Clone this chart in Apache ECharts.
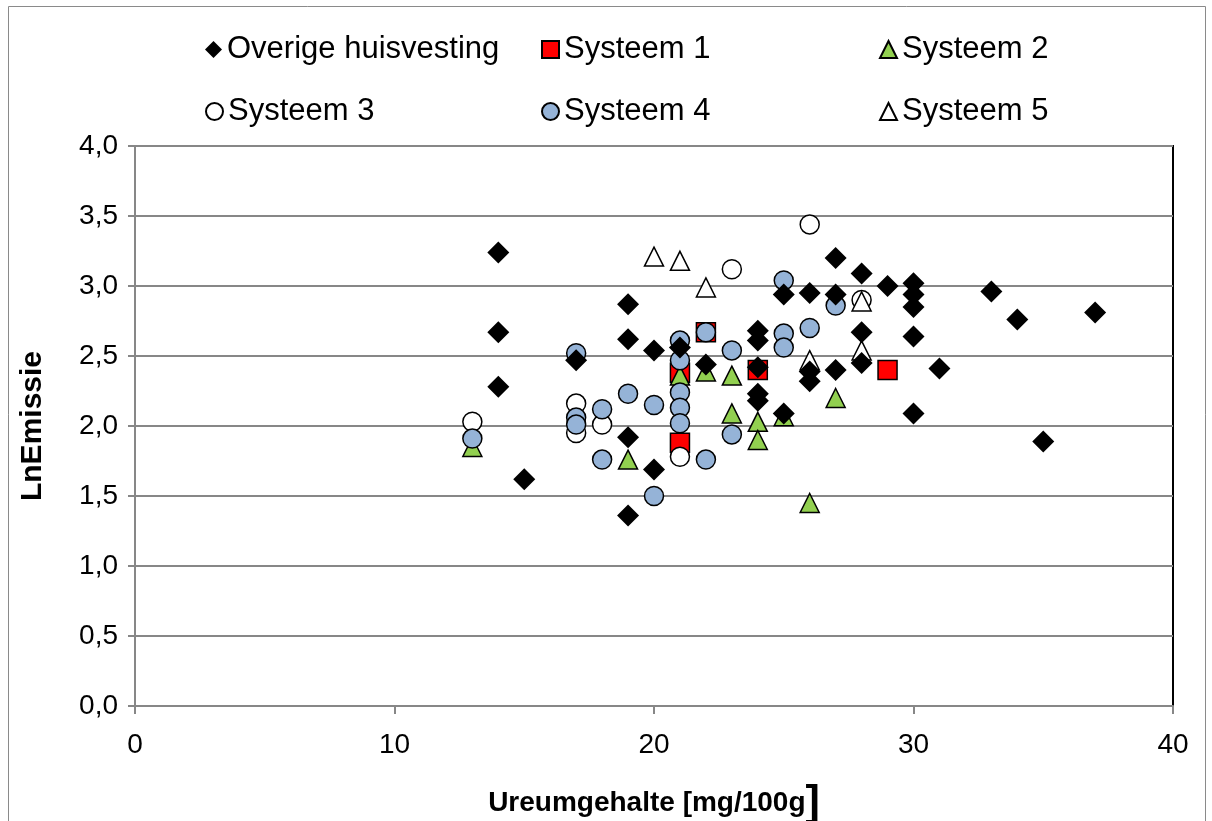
<!DOCTYPE html>
<html>
<head>
<meta charset="utf-8">
<script src="https://cdn.jsdelivr.net/npm/echarts@6/dist/echarts.min.js"></script>
<style>
  html, body { margin: 0; padding: 0; background: #fff; }
  #chart { width: 1212px; height: 821px; }
</style>
</head>
<body>
<div id="chart"></div>
<script>
// data: [Ureumgehalte, LnEmissie]
const overigeData = [
  [14, 3.24], [14, 2.67], [14, 2.28], [15, 1.62], [17, 2.47],
  [19, 2.87], [19, 2.62], [19, 1.92], [19, 1.36], [20, 2.54], [20, 1.69],
  [21, 2.56], [22, 2.44], [24, 2.68], [24, 2.61], [24, 2.42], [24, 2.23], [24, 2.18],
  [25, 2.94], [25, 2.09], [26, 2.95], [26, 2.39], [26, 2.32],
  [27, 3.20], [27, 2.94], [27, 2.40], [28, 3.09], [28, 2.67], [28, 2.45],
  [29, 3.00], [30, 3.02], [30, 2.94], [30, 2.85], [30, 2.64], [30, 2.09],
  [31, 2.41], [33, 2.96], [34, 2.76], [35, 1.89], [37, 2.81]
];
const systeem1Data = [[21, 2.38], [21, 1.88], [22, 2.67], [24, 2.40], [29, 2.40]];
const systeem2Data = [
  [13, 1.85], [19, 1.76], [21, 2.36], [22, 2.39], [23, 2.36], [23, 2.09],
  [24, 2.03], [24, 1.90], [25, 2.07], [26, 1.45], [27, 2.20]
];
const systeem3Data = [
  [13, 2.03], [17, 2.16], [17, 1.95], [18, 2.01], [21, 1.78],
  [23, 3.12], [26, 3.44], [28, 2.90]
];
const systeem4Data = [
  [13, 1.91], [17, 2.52], [17, 2.06], [17, 2.01], [18, 2.12], [18, 1.76],
  [19, 2.23], [20, 2.15], [20, 1.50],
  [21, 2.61], [21, 2.47], [21, 2.24], [21, 2.13], [21, 2.02],
  [22, 2.67], [22, 1.76], [23, 2.54], [23, 1.94],
  [25, 3.04], [25, 2.66], [25, 2.56], [26, 2.70], [27, 2.86]
];
const systeem5Data = [[20, 3.21], [21, 3.18], [22, 2.99], [26, 2.47], [28, 2.89], [28, 2.54]];

const names = ['Overige huisvesting', 'Systeem 1', 'Systeem 2', 'Systeem 3', 'Systeem 4', 'Systeem 5'];
const yTicks = [0, 0.5, 1, 1.5, 2, 2.5, 3, 3.5, 4];

const FONT = "'Liberation Sans', Arial, sans-serif";
const GRAY = '#878787';

const chart = echarts.init(document.getElementById('chart'));

// legend: one component per entry so that the 3-column layout matches
const legendPos = [
  [205, 34], [541, 34], [879, 34],
  [205, 96], [541, 96], [879, 96]
];
const legends = names.map((n, i) => ({
  data: [n],
  left: legendPos[i][0],
  top: legendPos[i][1],
  padding: 0,
  itemWidth: 17,
  itemHeight: 17,
  selectedMode: false,
  textStyle: { fontSize: 31, fontFamily: FONT, color: '#000' }
}));

const edge = { borderColor: '#000', borderWidth: 1.5, opacity: 1 };

const option = {
  animation: false,
  backgroundColor: '#fff',
  legend: legends,
  graphic: [{
    type: 'rect',
    shape: { x: 8.5, y: 6.5, width: 1197, height: 830 },
    style: { fill: 'none', stroke: '#8a8a8a', lineWidth: 1 },
    silent: true
  }],
  grid: {
    left: 135, right: 39, top: 146, bottom: 115,
    outerBoundsMode: 'none',
    show: true, borderColor: '#000', borderWidth: 2, backgroundColor: '#fff'
  },
  xAxis: {
    type: 'value', min: 0, max: 40, interval: 10,
    name: '{a|Ureumgehalte [mg/100g}{b|]}',
    nameLocation: 'middle', nameGap: 76,
    nameTextStyle: {
      fontFamily: FONT, color: '#000',
      rich: {
        a: { fontSize: 28, fontWeight: 'bold', fontFamily: FONT, color: '#000' },
        b: { fontSize: 43, fontWeight: 'bold', fontFamily: FONT, color: '#000' }
      }
    },
    axisLine: { show: true, onZero: false, lineStyle: { color: GRAY, width: 2 } },
    axisTick: { show: true, length: 8, lineStyle: { color: GRAY, width: 2 } },
    axisLabel: { fontSize: 28, fontFamily: FONT, color: '#000', margin: 25 },
    splitLine: { show: false }
  },
  yAxis: {
    type: 'value', min: 0, max: 4, interval: 0.5,
    name: 'LnEmissie',
    nameLocation: 'middle', nameGap: 87,
    nameTextStyle: { fontSize: 30, fontWeight: 'bold', fontFamily: FONT, color: '#000' },
    axisLine: { show: true, lineStyle: { color: GRAY, width: 2 } },
    axisTick: { show: true, length: 7, lineStyle: { color: GRAY, width: 2 } },
    axisLabel: {
      fontSize: 28, fontFamily: FONT, color: '#000', margin: 17,
      formatter: v => yTicks.includes(v) ? v.toFixed(1).replace('.', ',') : ''
    },
    splitLine: { show: true, lineStyle: { color: GRAY, width: 2 } }
  },
  series: [
    {
      name: names[0], type: 'scatter', data: overigeData, z: 8,
      symbol: 'diamond', symbolSize: 22,
      itemStyle: { color: '#000', opacity: 1 }
    },
    {
      name: names[1], type: 'scatter', data: systeem1Data, z: 3,
      symbol: 'rect', symbolSize: 19,
      itemStyle: Object.assign({ color: '#ff0000' }, edge)
    },
    {
      name: names[2], type: 'scatter', data: systeem2Data, z: 4,
      symbol: 'triangle', symbolSize: 19,
      itemStyle: Object.assign({ color: '#92d050' }, edge)
    },
    {
      name: names[3], type: 'scatter', data: systeem3Data, z: 5,
      symbol: 'circle', symbolSize: 19,
      itemStyle: Object.assign({ color: '#fff' }, edge)
    },
    {
      name: names[4], type: 'scatter', data: systeem4Data, z: 6,
      symbol: 'circle', symbolSize: 19,
      itemStyle: Object.assign({ color: '#95b3d7' }, edge)
    },
    {
      name: names[5], type: 'scatter', data: systeem5Data, z: 7,
      symbol: 'triangle', symbolSize: 19,
      itemStyle: Object.assign({ color: '#fff' }, edge)
    }
  ]
};

chart.setOption(option);
</script>
</body>
</html>
